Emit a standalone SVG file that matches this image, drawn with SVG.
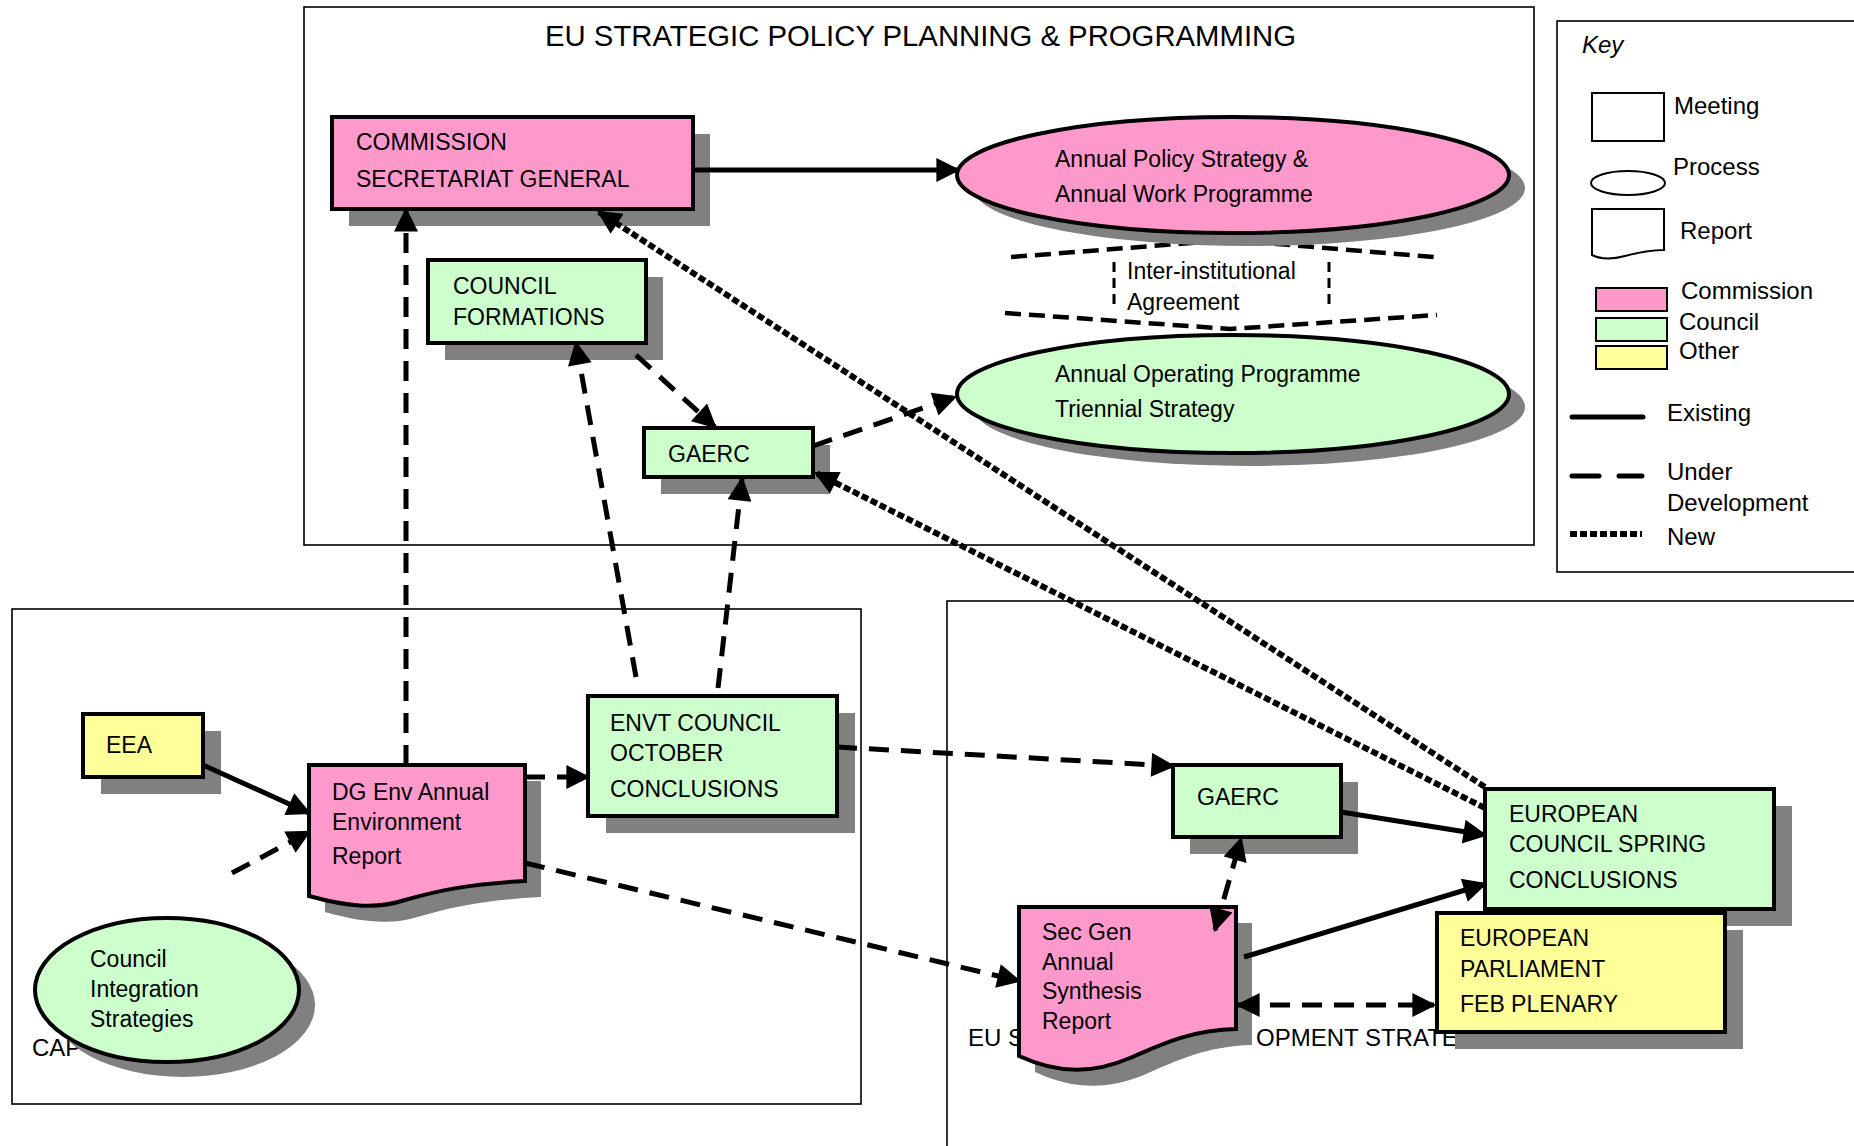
<svg xmlns="http://www.w3.org/2000/svg" width="1854" height="1146" viewBox="0 0 1854 1146">
<style>
text{font-family:"Liberation Sans",Arial,sans-serif;fill:#000}
.t{font-size:23px}
.k{font-size:24px}
.ttl{font-size:29.3px}
.frame{fill:none;stroke:#000;stroke-width:1.6}
.sh{fill:#808080;stroke:none}
.pink{fill:#FF99CC;stroke:#000;stroke-width:4}
.green{fill:#CCFFCC;stroke:#000;stroke-width:4}
.yellow{fill:#FFFF99;stroke:#000;stroke-width:4}
.c{fill:none;stroke:#000;stroke-width:5}
.dash{stroke-dasharray:20 12}
.dot{stroke-width:6;stroke-dasharray:7 3}
.ia{fill:none;stroke:#000;stroke-width:4.5;stroke-dasharray:16 8}
.iav{fill:none;stroke:#000;stroke-width:3;stroke-dasharray:10 6}
</style>
<defs>
<marker id="ah" viewBox="0 0 10 10" refX="9" refY="5" markerWidth="26" markerHeight="24" markerUnits="userSpaceOnUse" orient="auto-start-reverse">
<path d="M0,0 L10,5 L0,10 z" fill="#000"/>
</marker>
</defs>
<rect width="1854" height="1146" fill="#fff"/>

<g id="containers">
<rect class="frame" x="304" y="7" width="1230" height="538"/>
<text class="ttl" x="545" y="46">EU STRATEGIC POLICY PLANNING &amp; PROGRAMMING</text>
<rect class="frame" x="12" y="609" width="849" height="495"/>
<text class="k" x="32" y="1056">CAP</text>
<rect class="frame" x="947" y="601" width="930" height="580"/>
<text class="k" x="968" y="1046">EU S</text>
<text class="k" x="1256" y="1046">OPMENT STRATE</text>
</g>

<g id="key">
<rect class="frame" x="1557" y="21" width="320" height="551"/>
<text class="k" x="1582" y="53" font-style="italic">Key</text>
<rect x="1592" y="93" width="72" height="48" fill="#fff" stroke="#000" stroke-width="2"/>
<text class="k" x="1674" y="114">Meeting</text>
<ellipse cx="1628" cy="183" rx="37" ry="12" fill="#fff" stroke="#000" stroke-width="2"/>
<text class="k" x="1673" y="175">Process</text>
<path d="M1592,209 H1664 V250 C1650,250 1640,252 1625,256 C1610,260 1600,259 1592,255 Z" fill="#fff" stroke="#000" stroke-width="2"/>
<text class="k" x="1680" y="239">Report</text>
<rect x="1596" y="288" width="71" height="23" fill="#FF99CC" stroke="#000" stroke-width="2"/>
<rect x="1596" y="318" width="71" height="23" fill="#CCFFCC" stroke="#000" stroke-width="2"/>
<rect x="1596" y="346" width="71" height="23" fill="#FFFF99" stroke="#000" stroke-width="2"/>
<text class="k" x="1681" y="299">Commission</text>
<text class="k" x="1679" y="330">Council</text>
<text class="k" x="1679" y="359">Other</text>
<line x1="1572" y1="417" x2="1643" y2="417" stroke="#000" stroke-width="5" stroke-linecap="round"/>
<text class="k" x="1667" y="421">Existing</text>
<line x1="1572" y1="476" x2="1642" y2="476" stroke="#000" stroke-width="5" stroke-linecap="round" stroke-dasharray="27 20"/>
<text class="k" x="1667" y="480">Under</text>
<text class="k" x="1667" y="511">Development</text>
<line x1="1570" y1="534" x2="1642" y2="534" stroke="#000" stroke-width="6" stroke-dasharray="7 3"/>
<text class="k" x="1667" y="545">New</text>
</g>

<g id="inter-institutional">
<path class="ia" d="M1011,257 L1230,240 L1434,257"/>
<path class="ia" d="M1005,313 L1230,329 L1437,315"/>
<line class="iav" x1="1114" y1="262" x2="1114" y2="310"/>
<line class="iav" x1="1329" y1="262" x2="1329" y2="310"/>
<text class="t" x="1127" y="279">Inter-institutional</text>
<text class="t" x="1127" y="310">Agreement</text>
</g>

<g id="n-commission-sg">
<rect class="sh" x="349" y="134" width="361" height="92"/>
<rect class="pink" x="332" y="117" width="361" height="92"/>
<text class="t" x="356" y="150">COMMISSION</text>
<text class="t" x="356" y="187">SECRETARIAT GENERAL</text>
</g>

<g id="n-annual-policy">
<ellipse class="sh" cx="1249" cy="188" rx="276" ry="58"/>
<ellipse class="pink" cx="1233" cy="175" rx="276" ry="58"/>
<text class="t" x="1055" y="167">Annual Policy Strategy &amp;</text>
<text class="t" x="1055" y="202">Annual Work Programme</text>
</g>

<g id="n-annual-operating">
<ellipse class="sh" cx="1249" cy="407" rx="276" ry="59"/>
<ellipse class="green" cx="1233" cy="394" rx="276" ry="59"/>
<text class="t" x="1055" y="382">Annual Operating Programme</text>
<text class="t" x="1055" y="417">Triennial Strategy</text>
</g>

<g id="n-council-formations">
<rect class="sh" x="445" y="277" width="218" height="83"/>
<rect class="green" x="428" y="260" width="218" height="83"/>
<text class="t" x="453" y="294">COUNCIL</text>
<text class="t" x="453" y="325">FORMATIONS</text>
</g>

<g id="n-gaerc-top">
<rect class="sh" x="661" y="445" width="169" height="49"/>
<rect class="green" x="644" y="428" width="169" height="49"/>
<text class="t" x="668" y="462">GAERC</text>
</g>

<g id="n-eea">
<rect class="sh" x="101" y="731" width="120" height="63"/>
<rect class="yellow" x="83" y="714" width="120" height="63"/>
<text class="t" x="106" y="753">EEA</text>
</g>

<g id="n-dg-env">
<path class="sh" d="M325,781 H541 V897 C486,900 456,906 421,916 C391,926 361,922 325,912 Z"/>
<path class="pink" d="M309,765 H525 V881 C470,884 440,890 405,900 C375,910 345,906 309,896 Z"/>
<text class="t" x="332" y="800">DG Env Annual</text>
<text class="t" x="332" y="830">Environment</text>
<text class="t" x="332" y="864">Report</text>
</g>

<g id="n-envt-council">
<rect class="sh" x="606" y="713" width="249" height="120"/>
<rect class="green" x="588" y="696" width="249" height="120"/>
<text class="t" x="610" y="731">ENVT COUNCIL</text>
<text class="t" x="610" y="761">OCTOBER</text>
<text class="t" x="610" y="797">CONCLUSIONS</text>
</g>

<g id="n-council-integration">
<ellipse class="sh" cx="183" cy="1005" rx="132" ry="72"/>
<ellipse class="green" cx="167" cy="990" rx="132" ry="72"/>
<text class="t" x="90" y="967">Council</text>
<text class="t" x="90" y="997">Integration</text>
<text class="t" x="90" y="1027">Strategies</text>
</g>

<g id="n-gaerc-bottom">
<rect class="sh" x="1190" y="782" width="168" height="72"/>
<rect class="green" x="1173" y="765" width="168" height="72"/>
<text class="t" x="1197" y="805">GAERC</text>
</g>

<g id="n-european-council">
<rect class="sh" x="1503" y="806" width="289" height="120"/>
<rect class="green" x="1485" y="789" width="289" height="120"/>
<text class="t" x="1509" y="822">EUROPEAN</text>
<text class="t" x="1509" y="852">COUNCIL SPRING</text>
<text class="t" x="1509" y="888">CONCLUSIONS</text>
</g>

<g id="n-european-parliament">
<rect class="sh" x="1455" y="930" width="288" height="119"/>
<rect class="yellow" x="1437" y="913" width="288" height="119"/>
<text class="t" x="1460" y="946">EUROPEAN</text>
<text class="t" x="1460" y="977">PARLIAMENT</text>
<text class="t" x="1460" y="1012">FEB PLENARY</text>
</g>

<g id="n-secgen-report">
<path class="sh" d="M1035,923 H1252 V1045 C1206,1046 1176,1061 1146,1074 C1111,1089 1076,1091 1035,1072 Z"/>
<path class="pink" d="M1019,907 H1236 V1029 C1190,1030 1160,1045 1130,1058 C1095,1073 1060,1075 1019,1056 Z"/>
<text class="t" x="1042" y="940">Sec Gen</text>
<text class="t" x="1042" y="970">Annual</text>
<text class="t" x="1042" y="999">Synthesis</text>
<text class="t" x="1042" y="1029">Report</text>
</g>

<g id="connectors">
<path class="c" d="M693,170 L958,170" marker-end="url(#ah)"/>
<path class="c dash" d="M406,765 L406,210" marker-end="url(#ah)"/>
<path class="c dash" d="M636,677 L576,343" marker-end="url(#ah)"/>
<path class="c dash" d="M718,688 L742,479" marker-end="url(#ah)"/>
<path class="c dash" d="M636,355 L715,427" marker-end="url(#ah)"/>
<path class="c dash" d="M813,446 L955,397" marker-end="url(#ah)"/>
<path class="c dot" d="M1485,787 L599,212" marker-end="url(#ah)"/>
<path class="c dot" d="M1485,808 L816,473" marker-end="url(#ah)"/>
<path class="c" d="M203,765 L309,813" marker-end="url(#ah)"/>
<path class="c dash" d="M232,873 L309,832" marker-end="url(#ah)"/>
<path class="c dash" d="M525,777 L588,777" marker-end="url(#ah)"/>
<path class="c dash" d="M525,863 L1019,981" marker-end="url(#ah)"/>
<path class="c dash" d="M837,747 L1173,766" marker-end="url(#ah)"/>
<path class="c" d="M1341,812 L1485,835" marker-end="url(#ah)"/>
<path class="c dash" d="M1215,930 L1241,839" marker-start="url(#ah)" marker-end="url(#ah)"/>
<path class="c" d="M1244,957 L1485,884" marker-end="url(#ah)"/>
<path class="c dash" d="M1238,1005 L1434,1005" marker-start="url(#ah)" marker-end="url(#ah)"/>
</g>
</svg>
